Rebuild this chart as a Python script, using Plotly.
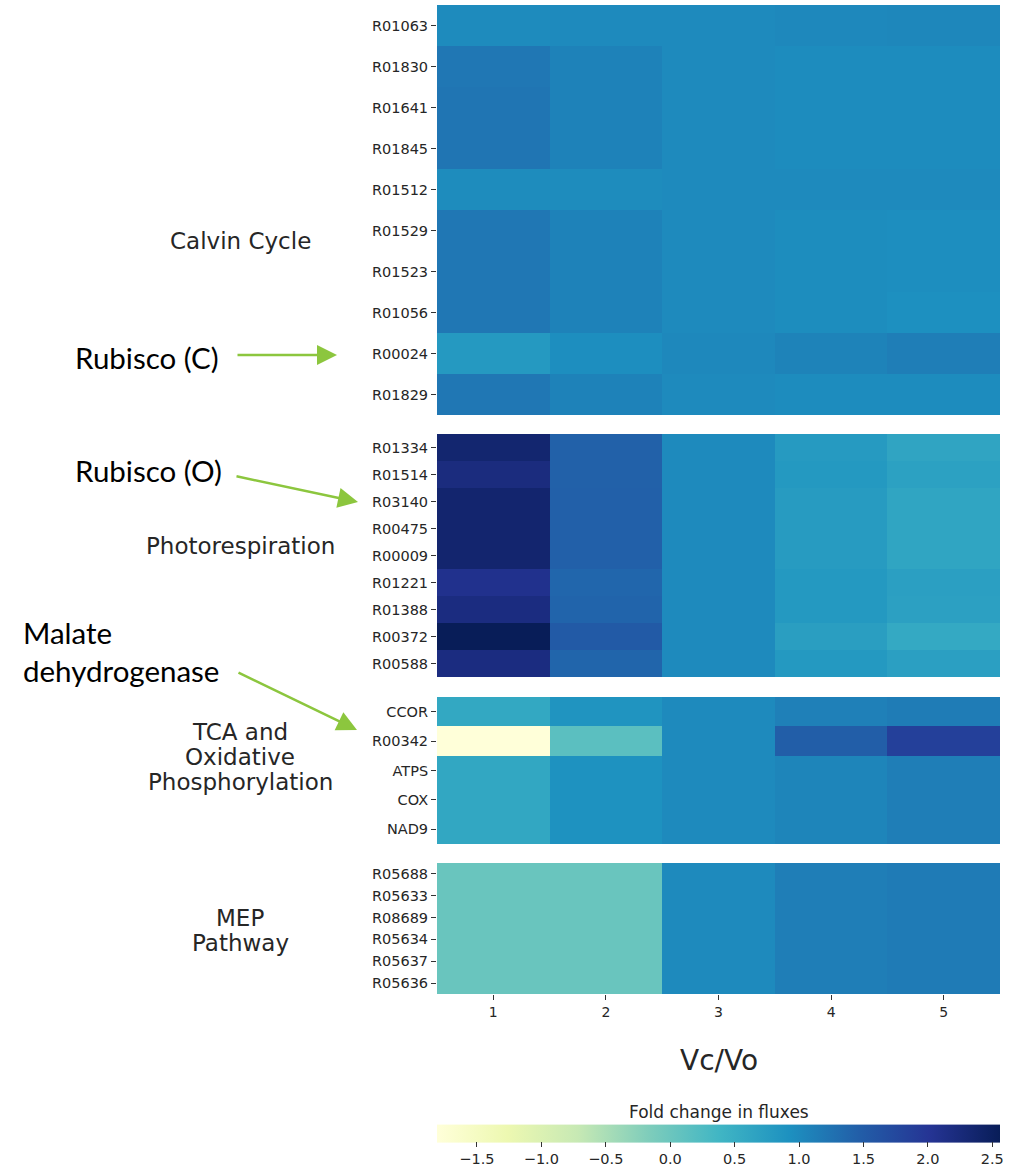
import plotly.graph_objects as go

# Vc/Vo ratios (columns)
vc_vo = [1, 2, 3, 4, 5]

# Calvin cycle reactions
calvin_rxns = ["R01063", "R01830", "R01641", "R01845", "R01512",
               "R01529", "R01523", "R01056", "R00024", "R01829"]
calvin_vals = [
    [0.99, 1.00, 1.00, 1.02, 1.03],
    [1.20, 1.08, 1.00, 0.97, 0.97],
    [1.22, 1.08, 1.00, 0.97, 0.97],
    [1.22, 1.08, 1.00, 0.97, 0.97],
    [0.98, 0.98, 1.00, 1.00, 1.00],
    [1.20, 1.08, 1.00, 0.96, 0.95],
    [1.20, 1.08, 1.00, 0.96, 0.95],
    [1.20, 1.08, 1.00, 0.96, 0.93],
    [0.80, 0.95, 1.02, 1.07, 1.12],
    [1.20, 1.08, 1.00, 0.97, 0.97],
]

# Photorespiration reactions
photo_rxns = ["R01334", "R01514", "R03140", "R00475", "R00009",
              "R01221", "R01388", "R00372", "R00588"]
photo_vals = [
    [2.35, 1.44, 1.00, 0.79, 0.64],
    [2.21, 1.44, 1.00, 0.81, 0.69],
    [2.36, 1.45, 1.00, 0.77, 0.63],
    [2.36, 1.45, 1.00, 0.77, 0.63],
    [2.36, 1.45, 1.00, 0.77, 0.63],
    [2.08, 1.38, 1.00, 0.81, 0.71],
    [2.20, 1.40, 1.00, 0.81, 0.70],
    [2.56, 1.52, 1.00, 0.73, 0.57],
    [2.20, 1.39, 1.00, 0.81, 0.71],
]

# TCA cycle and oxidative phosphorylation
tca_rxns = ["CCOR", "R00342", "ATPS", "COX", "NAD9"]
tca_vals = [
    [0.58, 0.88, 1.00, 1.10, 1.15],
    [-1.81, 0.15, 1.00, 1.47, 1.86],
    [0.60, 0.90, 1.00, 1.05, 1.12],
    [0.60, 0.90, 1.00, 1.05, 1.12],
    [0.60, 0.90, 1.00, 1.05, 1.12],
]

# MEP pathway
mep_rxns = ["R05688", "R05633", "R08689", "R05634", "R05637", "R05636"]
mep_vals = [
    [0.02, 0.02, 1.00, 1.12, 1.16],
    [0.02, 0.02, 1.00, 1.12, 1.16],
    [0.02, 0.02, 1.00, 1.12, 1.16],
    [0.02, 0.02, 1.00, 1.12, 1.16],
    [0.02, 0.02, 1.00, 1.12, 1.16],
    [0.02, 0.02, 1.00, 1.12, 1.16],
]

group_names = [["Calvin Cycle"], ["Photorespiration"],
               ["TCA and", "Oxidative", "Phosphorylation"], ["MEP", "Pathway"]]

cbar_ticks = [-1.5, -1.0, -0.5, 0.0, 0.5, 1.0, 1.5, 2.0, 2.5]

W, H = 1032, 1169
FONT = "DejaVu Sans"
TXT = "#262626"

# matplotlib YlGnBu
ylgnbu = [
    [0.000, "#ffffd9"], [0.125, "#edf8b1"], [0.250, "#c7e9b4"],
    [0.375, "#7fcdbb"], [0.500, "#41b6c4"], [0.625, "#1d91c0"],
    [0.750, "#225ea8"], [0.875, "#253494"], [1.000, "#081d58"],
]

panels = [
    (calvin_rxns, calvin_vals, 5, 415),
    (photo_rxns, photo_vals, 434, 677),
    (tca_rxns, tca_vals, 697, 844),
    (mep_rxns, mep_vals, 863, 994),
]

all_vals = [v for _, vals, _, _ in panels for row in vals for v in row]
zmin, zmax = min(all_vals), max(all_vals)

def py(px):
    return 1 - px / H

def pxx(px):
    return px / W

x0, x1 = pxx(437), pxx(1000)

fig = go.Figure()
layout = {}
for i, (rows, vals, top, bot) in enumerate(panels):
    k = "" if i == 0 else str(i + 1)
    fig.add_trace(go.Heatmap(
        x=vc_vo, y=rows, z=vals, coloraxis="coloraxis",
        xaxis="x" + k, yaxis="y" + k, hoverongaps=False,
    ))
    last = i == len(panels) - 1
    layout["xaxis" + k] = dict(
        domain=[x0, x1], anchor="y" + k, range=[0.5, 5.5],
        tickvals=vc_vo, showticklabels=last,
        ticks="outside" if last else "", ticklen=5, tickwidth=1, tickcolor="#333",
        showgrid=False, zeroline=False, showline=False,
        tickfont=dict(family=FONT, size=14, color=TXT),
    )
    layout["yaxis" + k] = dict(
        domain=[py(bot), py(top)], anchor="x" + k,
        type="category", categoryorder="array", categoryarray=rows,
        autorange="reversed",
        ticks="outside", ticklen=5, tickwidth=1, tickcolor="#333",
        showgrid=False, zeroline=False, showline=False,
        tickfont=dict(family=FONT, size=14.5, color=TXT),
    )

fig.update_layout(**layout)

annotations = []
# group labels on the left
group_lines_y = [[241], [546], [732, 757, 782], [918, 943]]
for lines, ys in zip(group_names, group_lines_y):
    for line, yy in zip(lines, ys):
        annotations.append(dict(
            text=line, x=pxx(240), y=py(yy), xref="paper", yref="paper",
            xanchor="center", yanchor="middle", showarrow=False,
            font=dict(family=FONT, size=23, color=TXT),
        ))

# x-axis title
annotations.append(dict(
    text="Vc/Vo", x=(x0 + x1) / 2, y=py(1060), xref="paper", yref="paper",
    xanchor="center", yanchor="middle", showarrow=False,
    font=dict(family=FONT, size=28, color=TXT),
))

# colorbar title
annotations.append(dict(
    text="Fold change in fluxes", x=(x0 + x1) / 2, y=py(1112),
    xref="paper", yref="paper", xanchor="center", yanchor="middle",
    showarrow=False, font=dict(family=FONT, size=17, color=TXT),
))

# call-out labels
CALL = "Lato"
for text, xx, yy in [("Rubisco (C)", 73, 357), ("Rubisco (O)", 73, 470),
                     ("Malate", 21, 632), ("dehydrogenase", 21, 670)]:
    annotations.append(dict(
        text=text, x=pxx(xx), y=py(yy), xref="paper", yref="paper",
        xanchor="left", yanchor="middle", showarrow=False,
        font=dict(family=CALL, size=29.5, color="#000000"),
    ))

# green arrows pointing at the rows
GREEN = "#8cc63e"
for (tx, ty), (hx, hy) in [((236, 355), (337, 355)),
                           ((235, 476), (358, 502)),
                           ((237, 672), (357, 730))]:
    annotations.append(dict(
        text="", x=pxx(hx), y=py(hy), xref="paper", yref="paper",
        ax=tx - hx, ay=ty - hy, axref="pixel", ayref="pixel",
        showarrow=True, arrowhead=2, arrowsize=1.6, arrowwidth=2.5,
        arrowcolor=GREEN, standoff=0, startstandoff=0,
    ))

fig.update_layout(
    width=W, height=H,
    margin=dict(l=0, r=0, t=0, b=0),
    paper_bgcolor="white", plot_bgcolor="white",
    showlegend=False,
    annotations=annotations,
    coloraxis=dict(
        colorscale=ylgnbu, cmin=zmin, cmax=zmax,
        colorbar=dict(
            orientation="h", x=x0, xanchor="left", len=x1 - x0, lenmode="fraction",
            y=py(1168), yanchor="bottom", thickness=18,
            xpad=0, ypad=0, outlinewidth=0,
            ticks="outside", ticklen=5, tickcolor="#333",
            tickvals=cbar_ticks,
            ticktext=[f"{t:.1f}".replace("-", "\u2212") for t in cbar_ticks],
            tickfont=dict(family=FONT, size=14.5, color=TXT),
        ),
    ),
)

fig.write_html("out.html")
